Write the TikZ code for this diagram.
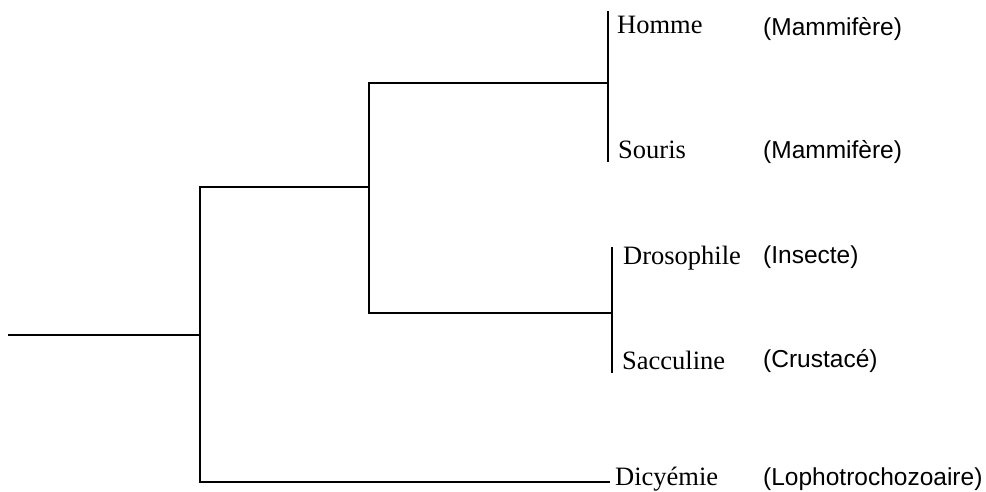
\documentclass[tikz,border=0pt]{standalone}
\usepackage{fontspec}
\setmainfont{Liberation Serif}
\newfontfamily\groupsans{Liberation Sans}
\begin{document}
\begin{tikzpicture}[x=1pt,y=-1pt,
  branch/.style={line width=1.3pt, line cap=rect},
  taxon/.style={anchor=base west, inner sep=0pt, font=\fontsize{26.5}{26.5}\selectfont},
  group/.style={anchor=base west, inner sep=0pt, font=\groupsans\fontsize{24.5}{24.5}\selectfont}]
\useasboundingbox (0,0) rectangle (986,491);

% junction points of the tree
\coordinate (root) at (9,335);
\coordinate (r0) at (200,335);
\coordinate (r0top) at (200,187);
\coordinate (r0bot) at (200,482);
\coordinate (a1) at (369,187);
\coordinate (a1top) at (369,83);
\coordinate (a1bot) at (369,313);
\coordinate (m1) at (608,83);
\coordinate (m1top) at (608,12);
\coordinate (m1bot) at (608,161);
\coordinate (i1) at (612,313);
\coordinate (i1top) at (612,248);
\coordinate (i1bot) at (612,372);
\coordinate (dic) at (609,482);

% taxa
\node[taxon] (homme) at (617,33) {Homme};
\node[taxon] (souris) at (618,158) {Souris};
\node[taxon] (droso) at (623,264) {Drosophile};
\node[taxon] (sacc) at (622,369) {Sacculine};
\node[taxon] (dicy) at (615,485) {Dicyémie};

% groups
\node[group] (g1) at (763,35) {(Mammifère)};
\node[group] (g2) at (763,158) {(Mammifère)};
\node[group] (g3) at (763,263) {(Insecte)};
\node[group] (g4) at (763,367) {(Crustacé)};
\node[group] (g5) at (763,485) {(Lophotrochozoaire)};

% branches
\draw[branch] (root) -- (r0);
\draw[branch] (r0top) -- (r0bot);
\draw[branch] (r0top) -- (a1);
\draw[branch] (a1top) -- (a1bot);
\draw[branch] (a1top) -- (m1);
\draw[branch] (a1bot) -- (i1);
\draw[branch] (m1top) -- (m1bot);
\draw[branch] (i1top) -- (i1bot);
\draw[branch] (r0bot) -- (dic);
\end{tikzpicture}
\end{document}
